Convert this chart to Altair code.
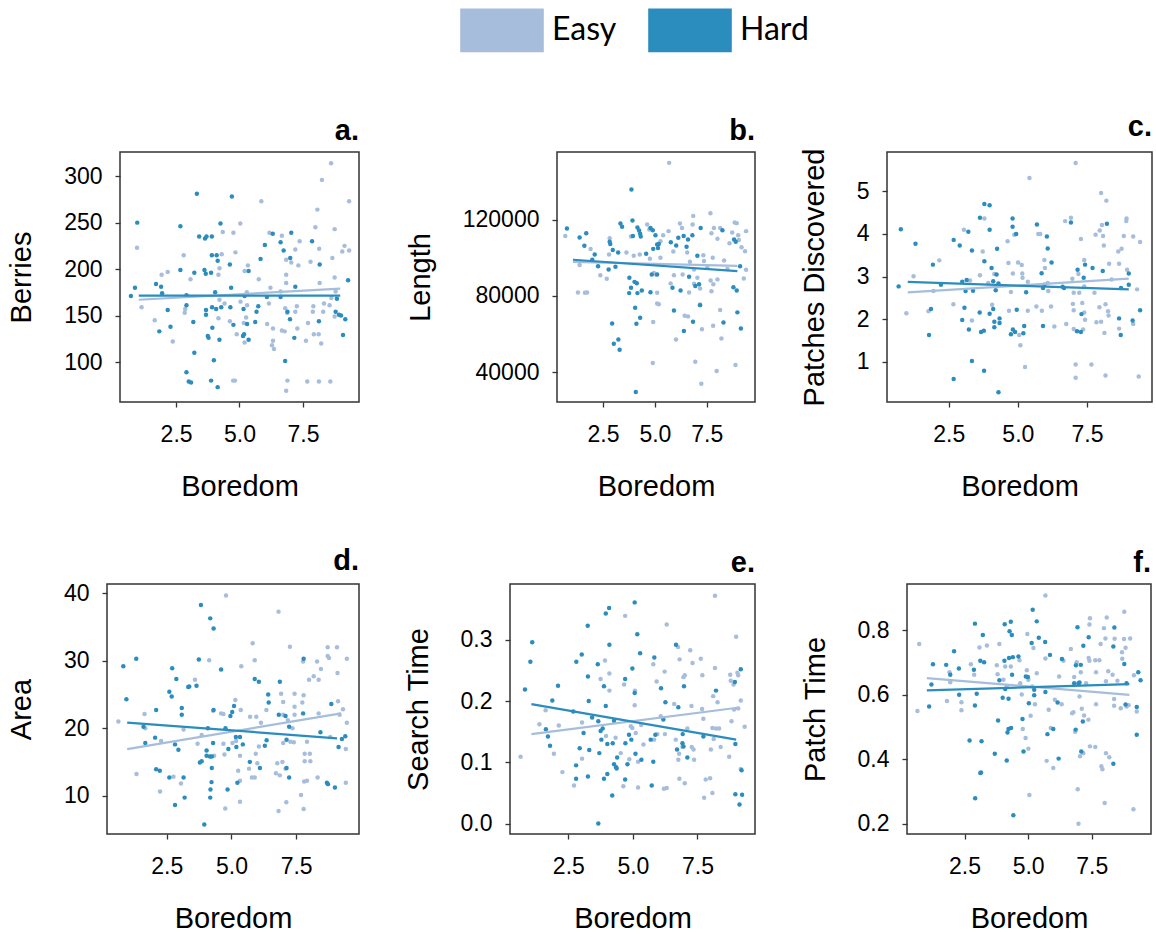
import altair as alt
import pandas as pd

FONT = "Liberation Sans"
EASY_C = "#a6bddb"
HARD_C = "#2b8cbe"
GROUPS = ["Easy", "Hard"]
X_TICKS = [2.5, 5.0, 7.5]

# ---------------- panel a: Berries ----------------
A_HARD = [(0.72,171),(0.88,180),(0.97,250),(1.71,184),(1.91,181),(1.84,133),(1.95,174),(2.17,156),(2.28,138),(2.67,246),(2.67,199),(2.91,172),(2.91,161),(2.91,89),(3.0,79),(3.09,78),(3.18,143),(3.22,196),(3.22,110),(3.32,281),(3.41,235),(3.62,199),(3.64,233),(3.70,235),(3.67,195),(3.68,156),(3.68,151),(3.75,128),(3.78,126),(3.88,196),(3.91,235),(3.91,215),(3.92,159),(3.88,80),(3.99,102),(3.93,137),(4.04,175),(4.08,157),(4.10,215),(4.14,209),(4.14,73),(4.21,124),(4.25,249),(4.28,159),(4.64,159),(4.62,205),(4.67,180),(4.70,278),(4.76,140),(5.14,128),(5.16,157),(5.18,130),(5.20,171),(5.30,141),(5.36,124),(5.36,198),(5.62,143),(5.67,154),(5.74,160),(5.83,211),(6.00,226),(6.08,170),(6.31,238),(6.62,229),(6.62,170),(6.74,220),(6.80,101),(6.89,154),(6.99,146),(7.00,212),(7.04,239),(7.16,126),(7.20,181),(7.86,230),(8.13,144),(8.16,205),(8.79,154),(8.84,168),(8.92,151),(9.00,150),(9.08,129),(9.17,146),(9.28,188)]
A_EASY = [(0.96,223),(1.14,159),(1.66,145),(1.93,194),(2.17,197),(2.37,122),(2.80,215),(2.86,157),(2.84,153),(3.07,189),(4.21,167),(4.17,147),(4.17,194),(4.21,201),(4.34,240),(4.30,216),(4.41,163),(4.62,144),(4.76,239),(4.84,218),(4.82,80),(4.75,80),(4.89,130),(5.03,249),(5.04,165),(5.17,142),(5.20,121),(5.20,198),(5.29,175),(5.33,204),(5.26,148),(5.30,161),(5.76,189),(5.86,273),(6.16,163),(6.09,141),(6.18,239),(6.28,118),(6.36,114),(6.32,136),(6.32,123),(6.22,180),(6.62,176),(6.67,236),(6.67,134),(6.78,133),(6.80,158),(6.84,194),(6.84,185),(6.84,210),(6.84,69),(6.89,80),(6.88,153),(7.04,207),(7.20,221),(7.20,154),(7.26,160),(7.28,136),(7.32,204),(7.37,230),(7.62,123),(7.67,79),(7.70,142),(7.80,208),(7.89,154),(7.91,160),(7.93,130),(7.99,245),(8.07,264),(8.12,130),(8.13,79),(8.14,222),(8.16,185),(8.22,120),(8.25,296),(8.30,154),(8.33,163),(8.58,79),(8.61,314),(8.66,212),(8.75,243),(8.75,191),(8.75,149),(8.79,176),(9.05,219),(9.14,225),(9.32,273),(9.32,220),(8.62,169),(8.55,161)]
A_LINES = {"Easy": [(1.03,167),(8.97,179)], "Hard": [(1.03,171.4),(8.97,171.4)]}

# ---------------- panel b: Length ----------------
B_HARD = [(0.76,115300),(1.37,110600),(1.69,112800),(1.60,106200),(1.98,98900),(2.10,101700),(2.26,95500),(2.82,108300),(2.85,107200),(2.77,93800),(2.97,104000),(3.10,95200),(3.23,102700),(2.94,65500),(3.02,54800),(3.24,57100),(3.30,51700),(3.34,117900),(3.42,116200),(3.77,89400),(3.76,81400),(3.85,84200),(3.92,119500),(3.87,135700),(3.94,111300),(4.02,87300),(4.13,86600),(4.16,81400),(4.05,73700),(4.11,65300),(4.29,68500),(4.08,29500),(4.16,115800),(4.24,114200),(4.29,112500),(4.32,111100),(4.37,82800),(4.58,102000),(4.79,115600),(4.90,114400),(4.85,91200),(4.79,81900),(4.92,104600),(5.03,111800),(5.11,106900),(5.19,107200),(5.11,91200),(5.15,105000),(5.77,108100),(5.85,84200),(5.92,72300),(6.03,106400),(6.13,110400),(6.24,82800),(6.39,111300),(6.40,61500),(6.53,105700),(6.60,109500),(6.65,90000),(6.81,111800),(6.84,66400),(6.95,85100),(7.05,101000),(7.13,86000),(7.21,115600),(7.18,75100),(8.26,114400),(8.31,66000),(8.79,84500),(8.82,109500),(8.90,108300),(8.95,82800),(8.98,71300),(9.11,95500),(9.15,62900)]
B_EASY = [(0.68,111300),(1.29,81700),(1.63,81600),(1.73,81700),(1.90,104500),(1.37,96200),(2.37,90800),(2.68,88900),(2.82,110200),(2.79,101700),(3.63,102700),(3.85,111100),(3.98,101000),(4.27,101700),(4.63,117400),(4.73,114800),(4.76,99400),(4.92,66200),(4.90,44700),(4.95,91900),(5.05,91200),(5.11,81600),(5.11,76000),(5.19,75600),(5.27,108600),(5.27,99900),(5.40,111800),(5.66,113900),(5.69,149700),(5.76,86500),(5.89,103200),(6.02,57100),(6.21,117900),(6.31,115600),(6.34,91200),(6.44,69500),(6.60,69200),(6.65,81700),(6.69,97800),(6.82,117400),(6.85,121900),(6.89,93800),(6.89,86300),(6.95,45400),(7.05,89400),(7.18,83800),(7.18,75500),(7.27,62500),(7.24,33900),(7.34,101300),(7.53,95000),(7.68,123300),(7.73,112800),(7.79,100000),(7.69,88000),(7.73,82400),(7.82,86000),(7.81,64300),(7.85,115600),(8.02,109900),(7.98,40500),(8.15,115600),(8.15,72500),(8.21,57600),(8.34,98500),(8.60,107600),(8.73,113200),(8.85,118400),(8.89,43700),(8.95,118100),(9.02,111800),(9.05,109200),(9.29,89100),(9.18,105500),(9.35,103400),(9.40,113900),(9.40,93600),(7.37,98200),(6.56,102700),(5.92,90800),(8.50,94000),(8.02,88600)]
B_LINES = {"Easy": [(1.05,97800),(8.98,95700)], "Hard": [(1.05,98900),(8.98,92900)]}

# ---------------- panel c: Patches Discovered ----------------
C_HARD = [(0.69,2.77),(0.77,4.11),(1.30,3.77),(1.79,1.63),(1.86,2.24),(1.93,3.28),(2.22,2.81),(2.68,3.86),(2.68,0.60),(2.90,3.73),(2.99,1.98),(2.99,2.88),(3.07,2.27),(3.11,2.66),(3.15,2.92),(3.21,4.05),(3.23,1.76),(3.34,3.61),(3.34,1.02),(3.38,2.67),(3.62,2.16),(3.63,4.38),(3.67,1.70),(3.77,1.73),(3.79,4.70),(3.79,3.36),(3.78,0.79),(3.98,4.67),(3.98,4.10),(3.98,2.13),(4.05,3.20),(4.11,2.24),(4.11,2.89),(4.15,1.94),(4.15,1.81),(4.20,2.68),(4.23,3.05),(4.25,3.65),(4.30,0.29),(4.30,2.84),(4.34,2.02),(4.34,1.91),(4.81,4.36),(4.81,4.17),(4.75,1.65),(4.82,1.76),(4.90,1.70),(4.94,4.00),(4.96,2.22),(5.20,1.67),(5.23,1.84),(5.30,2.63),(5.69,4.22),(5.86,3.08),(5.91,2.73),(5.91,1.84),(6.05,3.94),(6.08,3.66),(6.22,3.33),(6.67,2.73),(6.92,4.27),(7.16,3.16),(7.14,1.72),(7.28,1.70),(7.30,2.12),(7.38,2.97),(7.43,3.28),(7.70,3.20),(8.07,3.13),(8.22,4.24),(8.66,2.02),(8.72,1.63),(8.73,2.73),(9.01,3.07),(9.01,2.81),(9.15,1.97),(9.42,2.21),(5.96,2.81),(6.62,2.76)]
C_EASY = [(0.97,2.14),(1.23,3.01),(1.77,2.19),(1.95,2.66),(2.16,3.38),(2.67,2.35),(3.05,4.10),(3.27,2.91),(3.34,1.97),(3.63,3.03),(3.73,3.59),(3.79,4.36),(3.93,2.85),(4.07,2.34),(4.15,3.06),(4.63,3.83),(4.66,3.32),(4.68,2.20),(4.75,2.64),(4.82,3.07),(4.87,3.98),(5.01,3.33),(5.05,1.63),(5.09,1.39),(5.14,3.27),(5.16,3.07),(5.17,2.97),(5.26,0.88),(5.36,2.20),(5.42,5.31),(5.36,2.88),(5.67,2.30),(5.74,4.00),(5.81,4.00),(5.87,2.20),(5.96,3.39),(5.98,3.20),(6.08,2.85),(6.10,2.66),(6.20,2.30),(6.32,1.83),(6.71,4.30),(6.75,1.89),(6.92,4.38),(6.97,2.95),(6.99,2.36),(7.02,2.62),(7.02,2.21),(7.02,1.77),(7.09,0.94),(7.09,0.63),(7.09,5.66),(7.19,3.06),(7.22,2.62),(7.28,3.88),(7.33,2.38),(7.36,1.76),(7.40,3.39),(7.40,2.77),(7.40,2.16),(7.43,1.99),(7.66,0.94),(7.77,2.62),(7.81,3.98),(7.84,1.93),(7.96,4.08),(7.95,2.28),(8.01,1.94),(8.01,4.96),(8.04,4.21),(8.08,3.95),(8.11,3.73),(8.13,1.68),(8.17,0.68),(8.17,2.35),(8.20,4.78),(8.26,2.19),(8.28,2.09),(8.30,3.30),(8.39,2.93),(8.63,3.59),(8.66,3.30),(8.66,1.78),(8.75,3.65),(8.83,3.95),(8.92,4.30),(8.93,4.36),(8.95,3.16),(9.17,3.94),(9.17,1.89),(9.31,2.70),(9.42,3.81),(9.37,0.66)]
C_LINES = {"Easy": [(1.02,2.63),(9.01,2.95)], "Hard": [(1.02,2.875),(9.01,2.70)]}

# ---------------- panel d: Area ----------------
D_HARD = [(0.82,29.2),(0.94,24.3),(1.32,30.3),(1.60,20.2),(1.67,17.8),(2.09,22.7),(2.05,18.6),(2.09,13.9),(2.23,13.7),(2.60,25.4),(2.69,24.7),(2.71,28.9),(2.60,12.7),(2.82,17.6),(2.87,27.3),(2.82,8.6),(2.95,16.8),(3.08,23.0),(3.08,22.0),(3.15,12.7),(3.19,9.7),(3.33,26.1),(3.37,26.2),(3.65,26.3),(3.74,30.2),(3.78,14.9),(3.85,15.1),(3.82,38.3),(3.95,5.7),(4.04,16.7),(4.04,15.9),(4.09,20.0),(4.18,36.3),(4.17,15.8),(4.19,10.9),(4.18,9.7),(4.23,12.0),(4.24,15.8),(4.24,14.1),(4.29,17.8),(4.31,22.7),(4.31,34.8),(4.60,28.7),(4.77,20.0),(4.85,10.9),(4.88,16.9),(4.96,21.8),(5.03,22.4),(5.10,23.3),(5.17,18.7),(5.19,17.2),(5.23,11.9),(5.33,18.7),(5.44,17.6),(5.71,15.0),(5.90,27.3),(6.06,26.9),(6.10,14.1),(6.29,17.4),(6.36,18.2),(6.42,25.0),(6.44,23.8),(6.87,26.9),(6.83,22.0),(7.09,21.8),(7.13,18.3),(7.13,14.1),(7.23,12.7),(7.23,20.2),(7.79,30.3),(7.77,22.2),(8.44,19.4),(8.86,23.6),(8.69,11.9),(8.73,11.7),(9.00,11.2),(9.14,17.2),(9.27,18.4),(9.40,18.8)]
D_EASY = [(0.63,21.0),(1.33,13.2),(1.64,22.1),(1.67,20.0),(2.28,18.1),(2.24,10.6),(2.76,12.8),(3.05,11.8),(3.15,19.8),(3.59,27.2),(3.69,17.7),(3.85,19.0),(4.14,30.1),(4.29,22.6),(4.33,15.9),(4.60,22.2),(4.69,22.1),(4.69,17.7),(4.73,16.1),(4.76,8.1),(4.79,39.7),(5.04,17.8),(5.15,24.2),(5.18,18.1),(5.26,13.7),(5.33,15.9),(5.33,12.2),(5.33,9.1),(5.36,22.7),(5.38,29.2),(5.68,14.0),(5.72,21.7),(5.79,12.7),(5.82,32.6),(5.90,12.7),(5.90,30.1),(5.94,16.2),(5.96,21.7),(6.00,14.8),(6.06,17.3),(6.14,20.8),(6.35,22.7),(6.72,13.3),(6.77,14.8),(6.82,37.3),(6.82,7.7),(6.87,13.0),(6.92,25.1),(6.97,15.0),(7.00,23.9),(7.00,22.0),(7.00,17.8),(7.09,14.0),(7.12,9.0),(7.18,21.2),(7.26,32.1),(7.28,18.0),(7.36,20.0),(7.41,17.9),(7.44,25.1),(7.44,23.2),(7.44,22.0),(7.69,10.1),(7.74,23.8),(7.77,29.9),(7.79,24.9),(7.81,12.1),(7.79,8.0),(7.83,16.2),(7.83,15.1),(7.92,12.2),(7.92,18.0),(8.03,16.2),(8.05,15.1),(8.00,27.2),(8.18,27.7),(8.31,29.9),(8.37,27.2),(8.37,22.2),(8.46,28.8),(8.33,12.7),(8.72,32.0),(8.72,30.7),(8.77,30.4),(8.82,18.7),(9.08,32.0),(9.10,28.2),(9.12,24.0),(9.18,22.0),(9.31,22.8),(9.42,16.9),(9.42,11.9),(9.46,30.3),(9.46,20.8)]
D_LINES = {"Easy": [(0.97,16.9),(9.23,22.2)], "Hard": [(0.97,20.84),(9.08,18.5)]}

# ---------------- panel e: Search Time ----------------
E_HARD = [(0.82,0.219),(1.03,0.264),(1.10,0.296),(1.63,0.154),(1.71,0.142),(1.79,0.127),(1.88,0.201),(2.10,0.225),(2.69,0.183),(2.81,0.264),(2.80,0.095),(2.80,0.073),(2.94,0.123),(3.02,0.276),(3.09,0.148),(3.25,0.323),(3.26,0.240),(3.29,0.200),(3.26,0.077),(3.31,0.120),(3.42,0.173),(3.64,0.260),(3.66,0.167),(3.66,0.000),(3.70,0.115),(3.75,0.151),(3.78,0.137),(3.83,0.155),(3.88,0.224),(3.88,0.073),(3.95,0.343),(3.95,0.192),(4.01,0.130),(4.08,0.352),(4.09,0.292),(4.01,0.081),(4.22,0.131),(4.27,0.097),(4.35,0.092),(4.37,0.090),(4.39,0.108),(4.20,0.046),(4.27,0.168),(4.70,0.236),(4.70,0.072),(4.71,0.131),(4.79,0.097),(4.85,0.145),(4.94,0.137),(4.98,0.253),(5.07,0.213),(5.07,0.361),(5.10,0.114),(5.17,0.309),(5.28,0.278),(5.33,0.104),(5.69,0.137),(5.73,0.062),(5.79,0.101),(5.83,0.271),(5.87,0.145),(6.09,0.221),(6.18,0.170),(6.26,0.198),(6.67,0.292),(6.71,0.121),(6.76,0.190),(6.92,0.131),(6.93,0.146),(6.96,0.126),(6.98,0.224),(7.11,0.108),(7.73,0.142),(8.22,0.217),(8.95,0.231),(8.97,0.130),(8.97,0.048),(9.13,0.031),(9.18,0.252),(9.21,0.087),(9.23,0.047)]
E_EASY = [(0.65,0.109),(1.38,0.162),(1.62,0.185),(1.94,0.114),(2.13,0.160),(2.27,0.084),(2.72,0.062),(3.03,0.165),(3.03,0.106),(3.75,0.236),(3.92,0.266),(3.96,0.143),(4.09,0.245),(4.09,0.217),(4.33,0.140),(4.53,0.115),(4.63,0.061),(4.66,0.227),(4.70,0.339),(4.86,0.105),(4.92,0.159),(4.98,0.156),(5.07,0.193),(5.08,0.217),(5.11,0.148),(5.20,0.101),(5.20,0.059),(5.32,0.161),(5.41,0.129),(5.79,0.260),(5.82,0.137),(5.92,0.232),(5.95,0.146),(6.08,0.175),(6.20,0.057),(6.23,0.248),(6.24,0.146),(6.31,0.058),(6.31,0.325),(6.60,0.195),(6.66,0.137),(6.75,0.288),(6.76,0.104),(6.81,0.268),(6.80,0.073),(6.79,0.114),(6.92,0.125),(6.96,0.239),(7.01,0.242),(7.01,0.066),(7.11,0.155),(7.22,0.283),(7.27,0.192),(7.31,0.262),(7.28,0.125),(7.35,0.121),(7.37,0.104),(7.63,0.269),(7.69,0.242),(7.68,0.187),(7.73,0.171),(7.76,0.042),(7.82,0.072),(7.99,0.074),(8.02,0.121),(8.08,0.156),(8.11,0.208),(8.13,0.138),(8.08,0.050),(8.18,0.254),(8.22,0.155),(8.28,0.198),(8.34,0.155),(8.40,0.125),(8.18,0.372),(8.73,0.109),(8.77,0.243),(8.79,0.233),(8.82,0.167),(8.90,0.227),(9.00,0.305),(9.05,0.246),(9.08,0.242),(9.08,0.188),(9.18,0.201),(9.18,0.089),(9.33,0.158),(8.92,0.186)]
E_LINES = {"Easy": [(1.07,0.146),(9.05,0.189)], "Hard": [(1.07,0.195),(9.00,0.137)]}

# ---------------- panel f: Patch Time ----------------
F_HARD = [(1.11,0.564),(1.20,0.632),(1.26,0.695),(1.78,0.693),(1.94,0.662),(2.09,0.735),(2.28,0.682),(2.29,0.600),(2.70,0.458),(2.91,0.821),(2.91,0.567),(2.92,0.279),(2.98,0.603),(2.87,0.678),(3.12,0.706),(3.15,0.359),(3.12,0.357),(3.17,0.456),(3.22,0.786),(3.27,0.701),(3.69,0.417),(3.82,0.520),(3.87,0.645),(4.00,0.591),(4.08,0.819),(4.07,0.706),(4.10,0.618),(4.16,0.396),(4.19,0.483),(4.23,0.494),(4.25,0.714),(4.27,0.797),(4.32,0.827),(4.33,0.497),(4.36,0.786),(4.37,0.662),(4.40,0.717),(4.42,0.226),(4.23,0.588),(4.62,0.719),(4.78,0.525),(4.82,0.424),(4.91,0.657),(4.99,0.655),(5.03,0.574),(5.14,0.761),(5.18,0.864),(5.24,0.616),(5.24,0.599),(5.34,0.828),(5.42,0.777),(5.67,0.764),(5.68,0.609),(5.76,0.478),(5.86,0.724),(5.99,0.494),(6.16,0.576),(6.20,0.402),(6.33,0.711),(6.87,0.492),(6.81,0.636),(6.88,0.692),(6.94,0.810),(6.98,0.636),(7.02,0.638),(7.07,0.693),(7.09,0.424),(7.15,0.517),(7.17,0.752),(7.38,0.779),(8.35,0.750),(8.39,0.809),(8.35,0.386),(8.78,0.696),(8.83,0.570),(8.87,0.636),(9.27,0.562),(9.27,0.476),(9.33,0.670),(9.42,0.645)]
F_EASY = [(0.65,0.550),(0.72,0.758),(1.81,0.581),(1.91,0.670),(1.94,0.639),(2.38,0.577),(2.38,0.552),(2.75,0.695),(2.88,0.662),(3.09,0.747),(3.38,0.753),(3.77,0.692),(3.80,0.664),(3.87,0.758),(4.03,0.647),(4.10,0.688),(4.16,0.626),(4.32,0.688),(4.66,0.707),(4.69,0.636),(4.75,0.601),(4.79,0.494),(4.90,0.466),(4.97,0.789),(4.95,0.676),(5.01,0.647),(5.01,0.433),(5.05,0.289),(5.10,0.535),(5.16,0.626),(5.21,0.745),(5.27,0.571),(5.34,0.667),(5.68,0.908),(5.73,0.395),(5.68,0.713),(5.81,0.554),(5.89,0.497),(5.99,0.373),(6.05,0.585),(6.22,0.657),(6.32,0.571),(6.39,0.706),(6.68,0.742),(6.73,0.543),(6.78,0.546),(6.81,0.655),(6.85,0.485),(6.91,0.701),(6.95,0.307),(6.98,0.200),(7.02,0.595),(7.04,0.409),(7.07,0.670),(7.11,0.557),(7.17,0.419),(7.20,0.536),(7.28,0.636),(7.37,0.523),(7.38,0.714),(7.41,0.706),(7.43,0.440),(7.41,0.818),(7.43,0.838),(7.64,0.707),(7.64,0.438),(7.67,0.670),(7.67,0.571),(7.80,0.707),(7.85,0.758),(7.88,0.378),(7.92,0.369),(7.98,0.807),(8.04,0.775),(8.01,0.264),(8.06,0.419),(8.09,0.840),(8.15,0.673),(8.19,0.406),(8.06,0.642),(8.32,0.662),(8.38,0.587),(8.38,0.566),(8.40,0.774),(8.64,0.558),(8.69,0.732),(8.70,0.712),(8.77,0.773),(8.78,0.858),(8.83,0.746),(8.87,0.564),(8.95,0.568),(9.01,0.775),(9.16,0.661),(9.14,0.245),(9.27,0.548),(8.51,0.644)]
F_LINES = {"Easy": [(1.02,0.652),(8.98,0.600)], "Hard": [(1.02,0.614),(8.98,0.633)]}


# legend swatch: 42 px tall unit box, stretched horizontally to ~82 px
LEGEND = alt.Legend(
    title=None, orient="none", legendX=479, legendY=7, direction="horizontal",
    symbolType="M-1.952,-1H1.952V1H-1.952Z", symbolSize=1764,
    symbolStrokeColor="#4a76a8", symbolStrokeWidth=1.6, symbolOpacity=1,
    labelFont="Lato", labelFontSize=32, labelColor="black", labelOffset=28,
    columnPadding=28,
)


def panel(easy, hard, lines, ytitle, xdom, ydom, yticks, yfmt, letter, width):
    rows = [{"Boredom": x, "v": y, "g": "Easy"} for x, y in easy]
    rows += [{"Boredom": x, "v": y, "g": "Hard"} for x, y in hard]
    df = pd.DataFrame(rows)
    lrows = [{"Boredom": x, "v": y, "g": g} for g in GROUPS for x, y in lines[g]]
    ldf = pd.DataFrame(lrows)
    x = alt.X("Boredom:Q", scale=alt.Scale(domain=xdom, nice=False, zero=False),
              axis=alt.Axis(values=X_TICKS, format=".1f", title="Boredom"))
    y = alt.Y("v:Q", scale=alt.Scale(domain=ydom, nice=False, zero=False),
              axis=alt.Axis(values=yticks, format=yfmt, title=ytitle))
    color = alt.Color("g:N", scale=alt.Scale(domain=GROUPS, range=[EASY_C, HARD_C]), legend=LEGEND)
    pts = alt.Chart(df).mark_circle(size=20, opacity=1).encode(x=x, y=y, color=color)
    ln = alt.Chart(ldf).mark_line(strokeWidth=2.2).encode(
        x="Boredom:Q", y="v:Q", color=alt.Color("g:N", legend=None), detail="g:N")
    return alt.layer(pts, ln).properties(
        width=width, height=250,
        title=alt.TitleParams(text=letter, anchor="end", frame="group", baseline="alphabetic",
                              offset=-17, fontSize=29, fontWeight="bold", font=FONT, color="black"),
        view=alt.ViewBackground(stroke="#333333", strokeWidth=1.5),
    )


def spacer(w, h):
    # invisible layout block that fills its own cell
    return alt.Chart(pd.DataFrame({"s": [0]})).mark_rect(opacity=0).encode(
        x=alt.value(0), x2=alt.value("width"), y=alt.value(0), y2=alt.value("height")
    ).properties(width=w, height=h)


pa = panel(A_EASY, A_HARD, A_LINES, "Berries", [0.29, 9.71], [57, 326], [100, 150, 200, 250, 300], "d", "a.", 239)
pb = panel(B_EASY, B_HARD, B_LINES, "Length", [0.28, 9.83], [24300, 155400], [40000, 80000, 120000], "d", "b.", 198)
pc = panel(C_EASY, C_HARD, C_LINES, "Patches Discovered", [0.27, 9.85], [0.06, 5.92], [1, 2, 3, 4, 5], "d", "c.", 265)
pd_ = panel(D_EASY, D_HARD, D_LINES, "Area", [0.19, 9.93], [4.3, 41.4], [10, 20, 30, 40], "d", "d.", 252)
pe = panel(E_EASY, E_HARD, E_LINES, "Search Time", [0.24, 9.73], [-0.017, 0.391], [0.0, 0.1, 0.2, 0.3], ".1f", "e.", 245)
pf = panel(F_EASY, F_HARD, F_LINES, "Patch Time", [0.24, 9.83], [0.168, 0.944], [0.2, 0.4, 0.6, 0.8], ".1f", "f.", 244)

top_row = alt.hconcat(spacer(119, 250), pa, spacer(198, 250), pb, spacer(132, 250), pc,
                      spacing=0, bounds="flush")
bottom_row = alt.hconcat(spacer(106, 250), pd_, spacer(151, 250), pe, spacer(152, 250), pf,
                         spacing=0, bounds="flush")

chart = alt.vconcat(spacer(1151, 66), top_row, bottom_row, spacing=44).properties(
    padding=0
).configure_view(stroke="transparent").configure_axis(
    labelFont=FONT, labelFontSize=23, labelColor="black",
    titleFont=FONT, titleFontSize=29, titleFontWeight="normal", titleColor="black",
    tickColor="#333333", tickSize=5, tickWidth=1.3, domain=False, grid=False,
    labelFlush=False, labelOverlap=False,
).configure_axisX(labelPadding=16, titlePadding=26).configure_axisY(
    labelPadding=13, titlePadding=27)

chart.save("out.html", embed_options={"renderer": "svg", "actions": False})
